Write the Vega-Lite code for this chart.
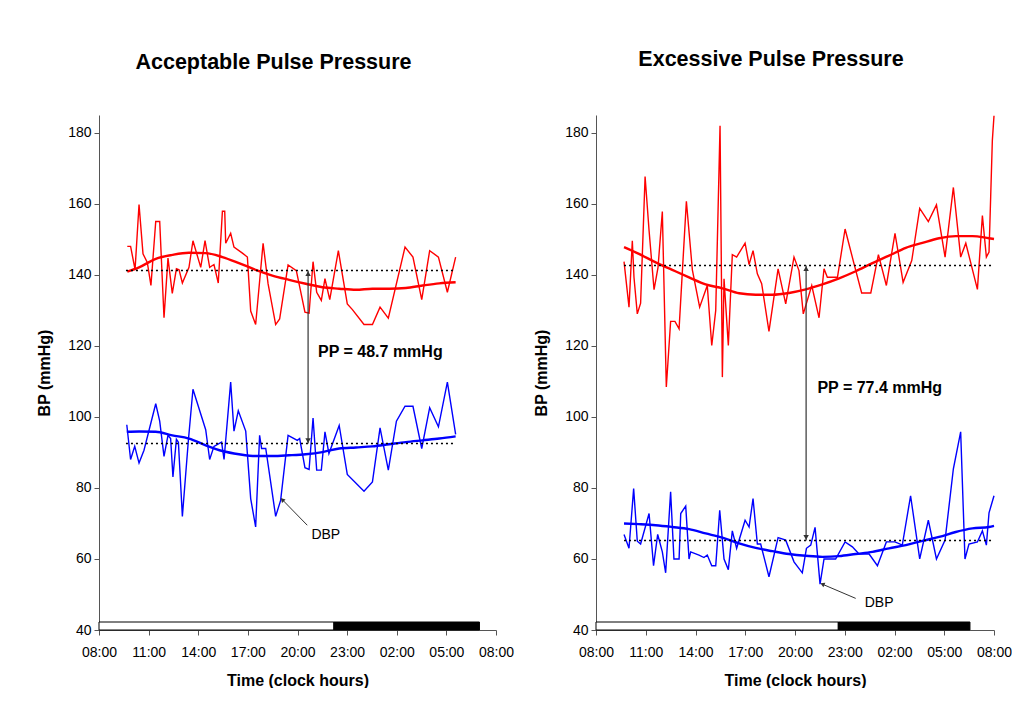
{
  "$schema": "https://vega.github.io/schema/vega-lite/v6.json",
  "background": "white",
  "padding": {"left": 36, "top": 49, "right": 0, "bottom": 0},
  "spacing": 100,
  "bounds": "flush",
  "config": {
    "font": "Liberation Sans",
    "view": {"stroke": null},
    "axis": {"domainColor": "#555", "tickColor": "#555", "labelColor": "black", "titleColor": "black", "labelFontSize": 14, "titleFontSize": 16, "titleFontWeight": "bold", "grid": false, "tickSize": 5},
    "title": {"fontSize": 21.5, "fontWeight": "bold", "color": "black", "offset": 42}
  },
  "datasets": {
    "rawA": [
      {"series":"SBP","hour":9.71,"bp":148},{"series":"SBP","hour":9.91,"bp":148},{"series":"SBP","hour":10.18,"bp":141.5},{"series":"SBP","hour":10.42,"bp":159.8},{"series":"SBP","hour":10.66,"bp":145.9},{"series":"SBP","hour":10.92,"bp":143.5},{"series":"SBP","hour":11.14,"bp":137},{"series":"SBP","hour":11.43,"bp":155},{"series":"SBP","hour":11.67,"bp":155},{"series":"SBP","hour":11.93,"bp":127.9},{"series":"SBP","hour":12.17,"bp":144.7},{"series":"SBP","hour":12.43,"bp":134.8},{"series":"SBP","hour":12.68,"bp":141.7},{"series":"SBP","hour":12.84,"bp":141.4},{"series":"SBP","hour":13.04,"bp":137.7},{"series":"SBP","hour":13.44,"bp":142.1},{"series":"SBP","hour":13.68,"bp":149.6},{"series":"SBP","hour":14.15,"bp":142.1},{"series":"SBP","hour":14.41,"bp":149.6},{"series":"SBP","hour":14.69,"bp":142.1},{"series":"SBP","hour":14.95,"bp":142.9},{"series":"SBP","hour":15.21,"bp":137.7},{"series":"SBP","hour":15.46,"bp":157.9},{"series":"SBP","hour":15.6,"bp":157.9},{"series":"SBP","hour":15.66,"bp":148.9},{"series":"SBP","hour":15.96,"bp":151.7},{"series":"SBP","hour":16.16,"bp":147.8},{"series":"SBP","hour":16.67,"bp":146.1},{"series":"SBP","hour":16.97,"bp":145},{"series":"SBP","hour":17.17,"bp":129.8},{"series":"SBP","hour":17.47,"bp":126},{"series":"SBP","hour":17.92,"bp":148.9},{"series":"SBP","hour":18.22,"bp":137.5},{"series":"SBP","hour":18.68,"bp":126},{"series":"SBP","hour":18.92,"bp":127.6},{"series":"SBP","hour":19.43,"bp":142.8},{"series":"SBP","hour":19.93,"bp":141.2},{"series":"SBP","hour":20.45,"bp":129.5},{"series":"SBP","hour":20.7,"bp":129.2},{"series":"SBP","hour":20.94,"bp":143.7},{"series":"SBP","hour":21.16,"bp":135.1},{"series":"SBP","hour":21.44,"bp":132.8},{"series":"SBP","hour":21.66,"bp":138.9},{"series":"SBP","hour":21.95,"bp":133},{"series":"SBP","hour":22.47,"bp":146.8},{"series":"SBP","hour":23.01,"bp":131.8},{"series":"SBP","hour":23.32,"bp":130.2},{"series":"SBP","hour":24.02,"bp":126},{"series":"SBP","hour":24.53,"bp":126},{"series":"SBP","hour":24.99,"bp":130.9},{"series":"SBP","hour":25.49,"bp":127.8},{"series":"SBP","hour":26.5,"bp":147.8},{"series":"SBP","hour":26.98,"bp":145},{"series":"SBP","hour":27.51,"bp":133},{"series":"SBP","hour":27.99,"bp":146.8},{"series":"SBP","hour":28.52,"bp":145},{"series":"SBP","hour":29.06,"bp":135.1},{"series":"SBP","hour":29.56,"bp":145},
      {"series":"DBP","hour":9.68,"bp":97.8},{"series":"DBP","hour":9.91,"bp":88},{"series":"DBP","hour":10.16,"bp":91.7},{"series":"DBP","hour":10.42,"bp":87},{"series":"DBP","hour":10.72,"bp":90.6},{"series":"DBP","hour":11.43,"bp":103.7},{"series":"DBP","hour":11.67,"bp":98.8},{"series":"DBP","hour":11.93,"bp":88.9},{"series":"DBP","hour":12.17,"bp":94.8},{"series":"DBP","hour":12.33,"bp":93.9},{"series":"DBP","hour":12.47,"bp":83.1},{"series":"DBP","hour":12.68,"bp":93.7},{"series":"DBP","hour":12.8,"bp":92.9},{"series":"DBP","hour":13.04,"bp":72},{"series":"DBP","hour":13.4,"bp":93.2},{"series":"DBP","hour":13.68,"bp":107.8},{"series":"DBP","hour":14.45,"bp":96.4},{"series":"DBP","hour":14.69,"bp":88},{"series":"DBP","hour":14.95,"bp":91.7},{"series":"DBP","hour":15.41,"bp":92.9},{"series":"DBP","hour":15.56,"bp":88},{"series":"DBP","hour":15.96,"bp":109.8},{"series":"DBP","hour":16.16,"bp":96},{"series":"DBP","hour":16.42,"bp":101.7},{"series":"DBP","hour":16.87,"bp":96},{"series":"DBP","hour":17.17,"bp":77},{"series":"DBP","hour":17.47,"bp":69},{"series":"DBP","hour":17.71,"bp":94.8},{"series":"DBP","hour":17.83,"bp":91.1},{"series":"DBP","hour":18.08,"bp":91.1},{"series":"DBP","hour":18.68,"bp":72},{"series":"DBP","hour":18.98,"bp":76.5},{"series":"DBP","hour":19.43,"bp":94.8},{"series":"DBP","hour":19.99,"bp":93.4},{"series":"DBP","hour":20.13,"bp":93.9},{"series":"DBP","hour":20.45,"bp":85.7},{"series":"DBP","hour":20.7,"bp":85.2},{"series":"DBP","hour":20.94,"bp":99.7},{"series":"DBP","hour":21.16,"bp":85},{"series":"DBP","hour":21.44,"bp":85},{"series":"DBP","hour":21.66,"bp":95.8},{"series":"DBP","hour":21.9,"bp":89.7},{"series":"DBP","hour":22.52,"bp":97.6},{"series":"DBP","hour":23.01,"bp":83.8},{"series":"DBP","hour":24.02,"bp":79.1},{"series":"DBP","hour":24.53,"bp":81.7},{"series":"DBP","hour":24.99,"bp":96.9},{"series":"DBP","hour":25.49,"bp":85},{"series":"DBP","hour":25.98,"bp":98.8},{"series":"DBP","hour":26.5,"bp":103},{"series":"DBP","hour":26.98,"bp":103},{"series":"DBP","hour":27.51,"bp":91.1},{"series":"DBP","hour":27.99,"bp":102.6},{"series":"DBP","hour":28.52,"bp":97.2},{"series":"DBP","hour":29.06,"bp":109.8},{"series":"DBP","hour":29.56,"bp":95.1}
    ],
    "fitA": [
      {"series":"SBP","hour":9.71,"bp":140.9},{"series":"SBP","hour":10.42,"bp":142.1},{"series":"SBP","hour":11.43,"bp":144.5},{"series":"SBP","hour":12.43,"bp":145.6},{"series":"SBP","hour":13.44,"bp":146.2},{"series":"SBP","hour":14.45,"bp":146.1},{"series":"SBP","hour":15.46,"bp":145},{"series":"SBP","hour":16.46,"bp":143.3},{"series":"SBP","hour":17.47,"bp":141.4},{"series":"SBP","hour":18.48,"bp":139.8},{"series":"SBP","hour":19.49,"bp":138.6},{"series":"SBP","hour":20.5,"bp":137.5},{"series":"SBP","hour":21.5,"bp":136.5},{"series":"SBP","hour":22.52,"bp":136.1},{"series":"SBP","hour":23.53,"bp":135.8},{"series":"SBP","hour":24.53,"bp":136.1},{"series":"SBP","hour":25.54,"bp":136.1},{"series":"SBP","hour":26.55,"bp":136.3},{"series":"SBP","hour":27.56,"bp":137},{"series":"SBP","hour":28.57,"bp":137.6},{"series":"SBP","hour":29.56,"bp":137.9},
      {"series":"DBP","hour":9.68,"bp":95.8},{"series":"DBP","hour":10.42,"bp":95.9},{"series":"DBP","hour":11.43,"bp":95.8},{"series":"DBP","hour":12.43,"bp":94.8},{"series":"DBP","hour":13.44,"bp":93.9},{"series":"DBP","hour":14.45,"bp":92},{"series":"DBP","hour":15.46,"bp":90.4},{"series":"DBP","hour":16.46,"bp":89.5},{"series":"DBP","hour":17.47,"bp":89},{"series":"DBP","hour":18.48,"bp":89},{"series":"DBP","hour":19.49,"bp":89.2},{"series":"DBP","hour":20.5,"bp":89.5},{"series":"DBP","hour":21.5,"bp":90.1},{"series":"DBP","hour":22.52,"bp":91.1},{"series":"DBP","hour":23.53,"bp":91.4},{"series":"DBP","hour":24.53,"bp":91.7},{"series":"DBP","hour":25.54,"bp":92.3},{"series":"DBP","hour":26.55,"bp":92.9},{"series":"DBP","hour":27.56,"bp":93.4},{"series":"DBP","hour":28.57,"bp":93.9},{"series":"DBP","hour":29.56,"bp":94.5}
    ],
    "rawB": [
      {"series":"SBP","hour":9.69,"bp":143.7},{"series":"SBP","hour":9.99,"bp":130.9},{"series":"SBP","hour":10.19,"bp":149.6},{"series":"SBP","hour":10.29,"bp":139.3},{"series":"SBP","hour":10.49,"bp":129},{"series":"SBP","hour":10.69,"bp":132},{"series":"SBP","hour":10.96,"bp":167.7},{"series":"SBP","hour":11.2,"bp":152.5},{"series":"SBP","hour":11.5,"bp":135.8},{"series":"SBP","hour":11.74,"bp":142.1},{"series":"SBP","hour":12,"bp":157.8},{"series":"SBP","hour":12.24,"bp":108.4},{"series":"SBP","hour":12.5,"bp":126.9},{"series":"SBP","hour":12.76,"bp":126.9},{"series":"SBP","hour":13.01,"bp":124.8},{"series":"SBP","hour":13.45,"bp":160.7},{"series":"SBP","hour":13.81,"bp":141.4},{"series":"SBP","hour":14.25,"bp":130.9},{"series":"SBP","hour":14.71,"bp":137},{"series":"SBP","hour":14.98,"bp":120.1},{"series":"SBP","hour":15.22,"bp":130},{"series":"SBP","hour":15.48,"bp":182},{"series":"SBP","hour":15.62,"bp":111.2},{"series":"SBP","hour":15.72,"bp":138.9},{"series":"SBP","hour":15.98,"bp":120.1},{"series":"SBP","hour":16.22,"bp":145.7},{"series":"SBP","hour":16.48,"bp":145},{"series":"SBP","hour":16.99,"bp":148.9},{"series":"SBP","hour":17.23,"bp":142.9},{"series":"SBP","hour":17.47,"bp":146.8},{"series":"SBP","hour":17.73,"bp":140.3},{"series":"SBP","hour":17.99,"bp":137.5},{"series":"SBP","hour":18.43,"bp":124.1},{"series":"SBP","hour":18.98,"bp":141.7},{"series":"SBP","hour":19.44,"bp":131.8},{"series":"SBP","hour":19.94,"bp":145},{"series":"SBP","hour":20.24,"bp":141.2},{"series":"SBP","hour":20.5,"bp":129},{"series":"SBP","hour":21.01,"bp":137},{"series":"SBP","hour":21.45,"bp":127.9},{"series":"SBP","hour":21.75,"bp":141.7},{"series":"SBP","hour":21.95,"bp":139.3},{"series":"SBP","hour":22.56,"bp":139.3},{"series":"SBP","hour":23.02,"bp":152.9},{"series":"SBP","hour":23.56,"bp":143.1},{"series":"SBP","hour":24.02,"bp":134.9},{"series":"SBP","hour":24.57,"bp":134.9},{"series":"SBP","hour":25.03,"bp":145.7},{"series":"SBP","hour":25.51,"bp":137},{"series":"SBP","hour":26.03,"bp":151.7},{"series":"SBP","hour":26.52,"bp":137.9},{"series":"SBP","hour":27.04,"bp":144},{"series":"SBP","hour":27.52,"bp":158.7},{"series":"SBP","hour":28.04,"bp":155},{"series":"SBP","hour":28.53,"bp":159.7},{"series":"SBP","hour":29.05,"bp":145},{"series":"SBP","hour":29.55,"bp":164.6},{"series":"SBP","hour":29.99,"bp":145},{"series":"SBP","hour":30.3,"bp":148.9},{"series":"SBP","hour":31,"bp":135.9},{"series":"SBP","hour":31.3,"bp":156.7},{"series":"SBP","hour":31.54,"bp":145},{"series":"SBP","hour":31.7,"bp":146.4},{"series":"SBP","hour":31.8,"bp":162},{"series":"SBP","hour":31.9,"bp":177.8},{"series":"SBP","hour":32,"bp":184.8},
      {"series":"DBP","hour":9.69,"bp":66.9},{"series":"DBP","hour":9.99,"bp":63},{"series":"DBP","hour":10.27,"bp":79.8},{"series":"DBP","hour":10.49,"bp":65},{"series":"DBP","hour":10.69,"bp":64.2},{"series":"DBP","hour":11.2,"bp":72.8},{"series":"DBP","hour":11.47,"bp":58.1},{"series":"DBP","hour":11.72,"bp":66.9},{"series":"DBP","hour":12,"bp":62},{"series":"DBP","hour":12.2,"bp":56.1},{"series":"DBP","hour":12.5,"bp":78.9},{"series":"DBP","hour":12.7,"bp":60},{"series":"DBP","hour":13.01,"bp":60},{"series":"DBP","hour":13.11,"bp":72.8},{"series":"DBP","hour":13.41,"bp":74.9},{"series":"DBP","hour":13.61,"bp":60},{"series":"DBP","hour":13.71,"bp":62},{"series":"DBP","hour":14.21,"bp":61.1},{"series":"DBP","hour":14.51,"bp":60.4},{"series":"DBP","hour":14.71,"bp":61.1},{"series":"DBP","hour":14.98,"bp":58.1},{"series":"DBP","hour":15.22,"bp":58.1},{"series":"DBP","hour":15.46,"bp":73.7},{"series":"DBP","hour":15.72,"bp":60},{"series":"DBP","hour":15.98,"bp":57},{"series":"DBP","hour":16.22,"bp":67.9},{"series":"DBP","hour":16.48,"bp":63},{"series":"DBP","hour":16.99,"bp":70.9},{"series":"DBP","hour":17.23,"bp":69},{"series":"DBP","hour":17.47,"bp":77},{"series":"DBP","hour":17.73,"bp":64.2},{"series":"DBP","hour":17.93,"bp":64.2},{"series":"DBP","hour":18.43,"bp":55},{"series":"DBP","hour":18.98,"bp":66},{"series":"DBP","hour":19.44,"bp":65.3},{"series":"DBP","hour":19.94,"bp":59.2},{"series":"DBP","hour":20.44,"bp":56.1},{"series":"DBP","hour":20.69,"bp":63},{"series":"DBP","hour":20.95,"bp":63.9},{"series":"DBP","hour":21.21,"bp":68.9},{"series":"DBP","hour":21.51,"bp":52.9},{"series":"DBP","hour":21.75,"bp":60},{"series":"DBP","hour":22.45,"bp":60},{"series":"DBP","hour":23.02,"bp":64.8},{"series":"DBP","hour":23.46,"bp":63.4},{"series":"DBP","hour":23.86,"bp":61.4},{"series":"DBP","hour":24.47,"bp":61.4},{"series":"DBP","hour":24.97,"bp":58.1},{"series":"DBP","hour":25.51,"bp":64.8},{"series":"DBP","hour":26.03,"bp":64.8},{"series":"DBP","hour":26.47,"bp":63.9},{"series":"DBP","hour":26.97,"bp":77.8},{"series":"DBP","hour":27.52,"bp":60},{"series":"DBP","hour":28.04,"bp":70.9},{"series":"DBP","hour":28.53,"bp":60},{"series":"DBP","hour":29.05,"bp":65.3},{"series":"DBP","hour":29.55,"bp":85.4},{"series":"DBP","hour":29.99,"bp":95.8},{"series":"DBP","hour":30.25,"bp":60},{"series":"DBP","hour":30.49,"bp":64.2},{"series":"DBP","hour":31,"bp":64.8},{"series":"DBP","hour":31.3,"bp":67.9},{"series":"DBP","hour":31.54,"bp":63.9},{"series":"DBP","hour":31.7,"bp":73},{"series":"DBP","hour":32,"bp":77.8}
    ],
    "fitB": [
      {"series":"SBP","hour":9.69,"bp":147.8},{"series":"SBP","hour":10.59,"bp":145.9},{"series":"SBP","hour":11.6,"bp":143.5},{"series":"SBP","hour":12.6,"bp":141.4},{"series":"SBP","hour":13.61,"bp":139.3},{"series":"SBP","hour":14.61,"bp":137.3},{"series":"SBP","hour":15.62,"bp":136.2},{"series":"SBP","hour":16.63,"bp":134.8},{"series":"SBP","hour":17.63,"bp":134.4},{"series":"SBP","hour":18.64,"bp":134.4},{"series":"SBP","hour":19.64,"bp":134.9},{"series":"SBP","hour":20.65,"bp":135.9},{"series":"SBP","hour":21.65,"bp":137.3},{"series":"SBP","hour":22.66,"bp":139},{"series":"SBP","hour":23.66,"bp":141},{"series":"SBP","hour":24.67,"bp":143.3},{"series":"SBP","hour":25.67,"bp":145.4},{"series":"SBP","hour":26.68,"bp":147.6},{"series":"SBP","hour":27.68,"bp":149},{"series":"SBP","hour":28.69,"bp":150.3},{"series":"SBP","hour":29.69,"bp":150.9},{"series":"SBP","hour":30.7,"bp":150.9},{"series":"SBP","hour":31.7,"bp":150.3},{"series":"SBP","hour":32,"bp":150.1},
      {"series":"DBP","hour":9.69,"bp":70},{"series":"DBP","hour":10.59,"bp":69.8},{"series":"DBP","hour":11.6,"bp":69.5},{"series":"DBP","hour":12.6,"bp":69},{"series":"DBP","hour":13.61,"bp":68.4},{"series":"DBP","hour":14.61,"bp":67.2},{"series":"DBP","hour":15.62,"bp":66},{"series":"DBP","hour":16.63,"bp":64.4},{"series":"DBP","hour":17.63,"bp":63.1},{"series":"DBP","hour":18.64,"bp":62.2},{"series":"DBP","hour":19.64,"bp":61.4},{"series":"DBP","hour":20.65,"bp":60.9},{"series":"DBP","hour":21.65,"bp":60.6},{"series":"DBP","hour":22.66,"bp":60.8},{"series":"DBP","hour":23.66,"bp":61.4},{"series":"DBP","hour":24.67,"bp":62},{"series":"DBP","hour":25.67,"bp":63},{"series":"DBP","hour":26.68,"bp":63.9},{"series":"DBP","hour":27.68,"bp":65.1},{"series":"DBP","hour":28.69,"bp":66.2},{"series":"DBP","hour":29.69,"bp":67.6},{"series":"DBP","hour":30.7,"bp":68.6},{"series":"DBP","hour":31.7,"bp":69},{"series":"DBP","hour":32,"bp":69.3}
    ],
    "bars": [
      {"panel":"A","phase":"day","start":8,"end":22.2},{"panel":"A","phase":"night","start":22.2,"end":31.0},
      {"panel":"B","phase":"day","start":8,"end":22.61},{"panel":"B","phase":"night","start":22.61,"end":30.55}
    ],
    "means": [
      {"panel":"A","series":"SBP","start":9.63,"end":29.56,"bp":141.2},{"panel":"A","series":"DBP","start":9.63,"end":29.56,"bp":92.5},
      {"panel":"B","series":"SBP","start":9.69,"end":32,"bp":142.6},{"panel":"B","series":"DBP","start":9.69,"end":32,"bp":65.2}
    ],
    "pp": [
      {"panel":"A","hour":20.64,"dbp":92.5,"sbp":141.2,"label":"PP = 48.7 mmHg","labelHour":21.24,"labelBp":118.2},
      {"panel":"B","hour":20.67,"dbp":65.2,"sbp":142.6,"label":"PP = 77.4 mmHg","labelHour":21.35,"labelBp":108}
    ],
    "pointer": [
      {"panel":"A","h1":20.59,"v1":69.5,"h2":19.08,"v2":76.7,"label":"DBP","labelHour":21.71,"labelBp":66.7},
      {"panel":"B","h1":23.66,"v1":48.9,"h2":21.65,"v2":52.9,"label":"DBP","labelHour":25.07,"labelBp":47.7}
    ]
  },
  "hconcat": [
    {
      "title": {"text": "Acceptable Pulse Pressure", "dx": -24},
      "width": 397, "height": 515,
      "layer": [
        {"data": {"name": "bars"}, "transform": [{"filter": "datum.panel === 'A'"}],
         "mark": {"type": "rect", "stroke": "black", "strokeWidth": 1},
         "encoding": {
           "x": {"field": "start", "type": "quantitative", "scale": {"domain": [8, 32], "nice": false, "zero": false},
                 "axis": {"title": "Time (clock hours)", "values": [8, 11, 14, 17, 20, 23, 26, 29, 32], "labelExpr": "(datum.value % 24 < 10 ? '0' : '') + (datum.value % 24) + ':00'", "labelPadding": 10, "titlePadding": 13, "labelFlush": false}},
           "x2": {"field": "end"},
           "y": {"datum": 40, "type": "quantitative", "scale": {"domain": [40, 185], "nice": false, "zero": false},
                 "axis": {"title": "BP (mmHg)", "values": [40, 60, 80, 100, 120, 140, 160, 180], "labelPadding": 3, "titlePadding": 15}},
           "y2": {"datum": 42.25},
           "fill": {"field": "phase", "type": "nominal", "scale": {"domain": ["day", "night"], "range": ["white", "black"]}, "legend": null}
         }},
        {"data": {"name": "rawA"}, "mark": {"type": "line", "strokeWidth": 1.4},
         "encoding": {
           "x": {"field": "hour", "type": "quantitative"},
           "y": {"field": "bp", "type": "quantitative"},
           "color": {"field": "series", "type": "nominal", "scale": {"domain": ["SBP", "DBP"], "range": ["#ff0000", "#0000ff"]}, "legend": null}
         }},
        {"data": {"name": "fitA"}, "mark": {"type": "line", "strokeWidth": 2.4, "interpolate": "monotone"},
         "encoding": {
           "x": {"field": "hour", "type": "quantitative"},
           "y": {"field": "bp", "type": "quantitative"},
           "color": {"field": "series", "type": "nominal", "legend": null}
         }},
        {"data": {"name": "means"}, "transform": [{"filter": "datum.panel === 'A'"}],
         "mark": {"type": "rule", "color": "black", "strokeWidth": 1.5, "strokeDash": [2, 3]},
         "encoding": {
           "x": {"field": "start", "type": "quantitative"},
           "x2": {"field": "end"},
           "y": {"field": "bp", "type": "quantitative"}
         }},
        {"data": {"name": "pp"}, "transform": [{"filter": "datum.panel === 'A'"}],
         "layer": [
           {"mark": {"type": "rule", "color": "#333", "strokeWidth": 1.2},
            "encoding": {"x": {"field": "hour", "type": "quantitative"}, "y": {"field": "dbp", "type": "quantitative"}, "y2": {"field": "sbp"}}},
           {"mark": {"type": "point", "shape": "triangle-up", "filled": true, "color": "#333", "size": 30, "opacity": 1, "yOffset": 3},
            "encoding": {"x": {"field": "hour", "type": "quantitative"}, "y": {"field": "sbp", "type": "quantitative"}}},
           {"mark": {"type": "point", "shape": "triangle-down", "filled": true, "color": "#333", "size": 30, "opacity": 1, "yOffset": -3},
            "encoding": {"x": {"field": "hour", "type": "quantitative"}, "y": {"field": "dbp", "type": "quantitative"}}},
           {"mark": {"type": "text", "align": "left", "baseline": "middle", "fontSize": 16, "fontWeight": "bold", "color": "black"},
            "encoding": {"x": {"field": "labelHour", "type": "quantitative"}, "y": {"field": "labelBp", "type": "quantitative"}, "text": {"field": "label"}}}
         ]},
        {"data": {"name": "pointer"}, "transform": [{"filter": "datum.panel === 'A'"}],
         "layer": [
           {"mark": {"type": "rule", "color": "#333", "strokeWidth": 1},
            "encoding": {"x": {"field": "h1", "type": "quantitative"}, "y": {"field": "v1", "type": "quantitative"}, "x2": {"field": "h2"}, "y2": {"field": "v2"}}},
           {"mark": {"type": "point", "shape": "triangle-up", "filled": true, "color": "#333", "size": 25, "opacity": 1, "angle": -45},
            "encoding": {"x": {"field": "h2", "type": "quantitative"}, "y": {"field": "v2", "type": "quantitative"}}},
           {"mark": {"type": "text", "align": "center", "baseline": "middle", "fontSize": 14, "color": "black"},
            "encoding": {"x": {"field": "labelHour", "type": "quantitative"}, "y": {"field": "labelBp", "type": "quantitative"}, "text": {"field": "label"}}}
         ]}
      ]
    },
    {
      "title": {"text": "Excessive Pulse Pressure", "dx": -24},
      "width": 398, "height": 515,
      "layer": [
        {"data": {"name": "bars"}, "transform": [{"filter": "datum.panel === 'B'"}],
         "mark": {"type": "rect", "stroke": "black", "strokeWidth": 1},
         "encoding": {
           "x": {"field": "start", "type": "quantitative", "scale": {"domain": [8, 32], "nice": false, "zero": false},
                 "axis": {"title": "Time (clock hours)", "values": [8, 11, 14, 17, 20, 23, 26, 29, 32], "labelExpr": "(datum.value % 24 < 10 ? '0' : '') + (datum.value % 24) + ':00'", "labelPadding": 10, "titlePadding": 13, "labelFlush": false}},
           "x2": {"field": "end"},
           "y": {"datum": 40, "type": "quantitative", "scale": {"domain": [40, 185], "nice": false, "zero": false},
                 "axis": {"title": "BP (mmHg)", "values": [40, 60, 80, 100, 120, 140, 160, 180], "labelPadding": 3, "titlePadding": 15}},
           "y2": {"datum": 42.25},
           "fill": {"field": "phase", "type": "nominal", "scale": {"domain": ["day", "night"], "range": ["white", "black"]}, "legend": null}
         }},
        {"data": {"name": "rawB"}, "mark": {"type": "line", "strokeWidth": 1.4},
         "encoding": {
           "x": {"field": "hour", "type": "quantitative"},
           "y": {"field": "bp", "type": "quantitative"},
           "color": {"field": "series", "type": "nominal", "scale": {"domain": ["SBP", "DBP"], "range": ["#ff0000", "#0000ff"]}, "legend": null}
         }},
        {"data": {"name": "fitB"}, "mark": {"type": "line", "strokeWidth": 2.4, "interpolate": "monotone"},
         "encoding": {
           "x": {"field": "hour", "type": "quantitative"},
           "y": {"field": "bp", "type": "quantitative"},
           "color": {"field": "series", "type": "nominal", "legend": null}
         }},
        {"data": {"name": "means"}, "transform": [{"filter": "datum.panel === 'B'"}],
         "mark": {"type": "rule", "color": "black", "strokeWidth": 1.5, "strokeDash": [2, 3]},
         "encoding": {
           "x": {"field": "start", "type": "quantitative"},
           "x2": {"field": "end"},
           "y": {"field": "bp", "type": "quantitative"}
         }},
        {"data": {"name": "pp"}, "transform": [{"filter": "datum.panel === 'B'"}],
         "layer": [
           {"mark": {"type": "rule", "color": "#333", "strokeWidth": 1.2},
            "encoding": {"x": {"field": "hour", "type": "quantitative"}, "y": {"field": "dbp", "type": "quantitative"}, "y2": {"field": "sbp"}}},
           {"mark": {"type": "point", "shape": "triangle-up", "filled": true, "color": "#333", "size": 30, "opacity": 1, "yOffset": 3},
            "encoding": {"x": {"field": "hour", "type": "quantitative"}, "y": {"field": "sbp", "type": "quantitative"}}},
           {"mark": {"type": "point", "shape": "triangle-down", "filled": true, "color": "#333", "size": 30, "opacity": 1, "yOffset": -3},
            "encoding": {"x": {"field": "hour", "type": "quantitative"}, "y": {"field": "dbp", "type": "quantitative"}}},
           {"mark": {"type": "text", "align": "left", "baseline": "middle", "fontSize": 16, "fontWeight": "bold", "color": "black"},
            "encoding": {"x": {"field": "labelHour", "type": "quantitative"}, "y": {"field": "labelBp", "type": "quantitative"}, "text": {"field": "label"}}}
         ]},
        {"data": {"name": "pointer"}, "transform": [{"filter": "datum.panel === 'B'"}],
         "layer": [
           {"mark": {"type": "rule", "color": "#333", "strokeWidth": 1},
            "encoding": {"x": {"field": "h1", "type": "quantitative"}, "y": {"field": "v1", "type": "quantitative"}, "x2": {"field": "h2"}, "y2": {"field": "v2"}}},
           {"mark": {"type": "point", "shape": "triangle-up", "filled": true, "color": "#333", "size": 25, "opacity": 1, "angle": -67},
            "encoding": {"x": {"field": "h2", "type": "quantitative"}, "y": {"field": "v2", "type": "quantitative"}}},
           {"mark": {"type": "text", "align": "center", "baseline": "middle", "fontSize": 14, "color": "black"},
            "encoding": {"x": {"field": "labelHour", "type": "quantitative"}, "y": {"field": "labelBp", "type": "quantitative"}, "text": {"field": "label"}}}
         ]}
      ]
    }
  ]
}
